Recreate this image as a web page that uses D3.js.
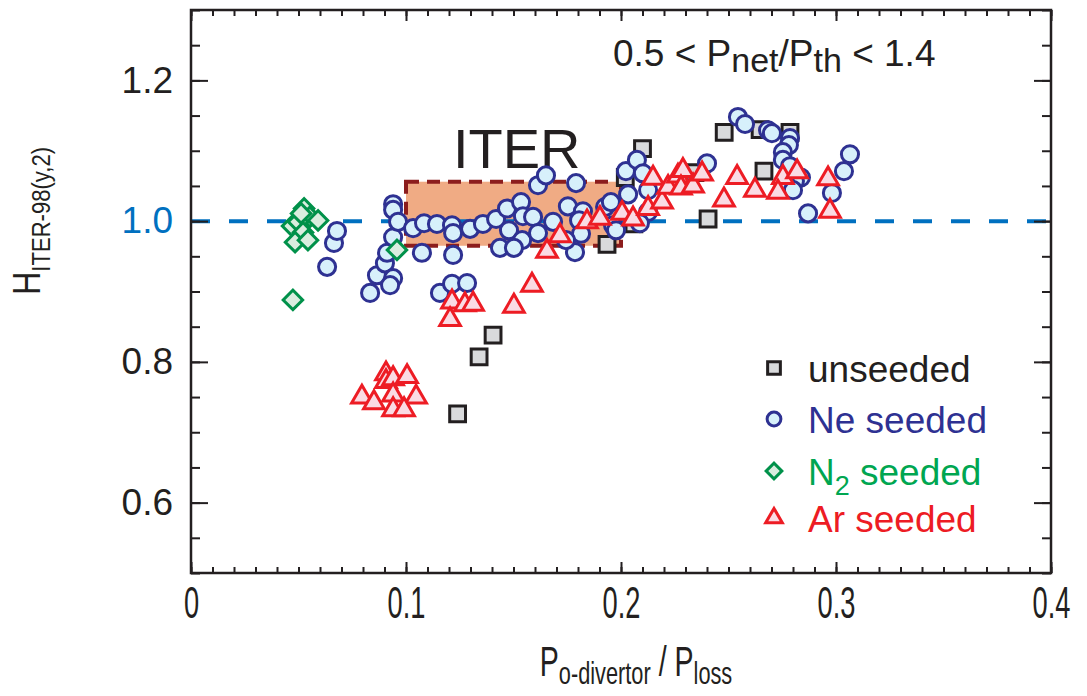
<!DOCTYPE html>
<html>
<head>
<meta charset="utf-8">
<script src="https://cdn.jsdelivr.net/npm/d3@7"></script>
<style>
  body { margin: 0; background: #fff; }
  svg { font-family: "Liberation Sans", Arial, Helvetica, sans-serif; }
</style>
</head>
<body>
<div id="chart"></div>
<script>
// data: [P_o-div/P_loss, H98]
const unseeded = [
  [0.124, 0.726], [0.134, 0.807], [0.1405, 0.838], [0.1935, 0.967], [0.210, 1.103],
  [0.202, 1.062], [0.206, 0.996], [0.2344, 1.069], [0.2405, 1.003], [0.248, 1.126],
  [0.2647, 1.130], [0.2786, 1.126], [0.2665, 1.071]
];

const neSeeded = [
  [0.0633, 0.935], [0.0665, 0.969], [0.0679, 0.986], [0.0833, 0.898], [0.0865, 0.923],
  [0.0902, 0.940], [0.0912, 0.955], [0.094, 0.919], [0.0926, 0.909], [0.094, 0.977],
  [0.094, 1.024], [0.094, 1.016], [0.0963, 0.999], [0.1033, 0.990], [0.1084, 0.997],
  [0.1144, 0.996], [0.1214, 0.994], [0.1219, 0.983], [0.1074, 0.955], [0.1219, 0.952],
  [0.1158, 0.898], [0.1214, 0.911], [0.1284, 0.912], [0.1298, 0.989], [0.1358, 0.996],
  [0.1419, 1.003], [0.147, 1.018], [0.1535, 1.027], [0.1544, 1.007], [0.1591, 1.006],
  [0.1479, 0.987], [0.154, 0.973], [0.1614, 0.983], [0.1684, 0.999], [0.1437, 0.962],
  [0.1502, 0.962], [0.1753, 1.021], [0.1823, 1.014], [0.1805, 1.001], [0.1814, 0.982],
  [0.1786, 0.956], [0.1744, 0.973], [0.1614, 1.051], [0.1651, 1.065], [0.1791, 1.054],
  [0.1926, 1.020], [0.1953, 1.027], [0.1963, 0.994], [0.1977, 0.987], [0.2033, 1.038],
  [0.2023, 1.071], [0.2074, 1.087], [0.2102, 1.068], [0.2126, 1.044], [0.2126, 1.013],
  [0.2088, 0.997], [0.240, 1.082], [0.2544, 1.148], [0.2577, 1.138], [0.2684, 1.129],
  [0.2702, 1.125], [0.2786, 1.118], [0.2781, 1.108], [0.2753, 1.098], [0.2753, 1.087],
  [0.2786, 1.078], [0.2837, 1.062], [0.2809, 1.057], [0.2772, 1.050], [0.280, 1.044],
  [0.287, 1.011], [0.2981, 1.040], [0.3037, 1.071], [0.3065, 1.095]
];

const n2Seeded = [
  [0.0526, 1.018], [0.0553, 1.006], [0.0591, 1.001], [0.047, 0.993], [0.0498, 0.999],
  [0.0521, 0.984], [0.0484, 0.970], [0.0544, 0.973], [0.0512, 1.011], [0.0958, 0.959],
  [0.0474, 0.888]
];

const arSeeded = [
  [0.0795, 0.750], [0.0851, 0.742], [0.0907, 0.783], [0.0907, 0.772], [0.094, 0.776],
  [0.1005, 0.779], [0.094, 0.753], [0.1047, 0.750], [0.094, 0.732], [0.0991, 0.732],
  [0.1214, 0.885], [0.1274, 0.881], [0.1312, 0.882], [0.1205, 0.860], [0.1502, 0.879],
  [0.1586, 0.909], [0.1656, 0.957], [0.1716, 0.979], [0.1842, 0.999], [0.1902, 1.004],
  [0.2005, 1.011], [0.2056, 1.003], [0.2149, 1.061], [0.2126, 1.018], [0.2191, 1.027],
  [0.2219, 1.048], [0.2265, 1.064], [0.2288, 1.072], [0.2279, 1.047], [0.2335, 1.050],
  [0.2377, 1.067], [0.2479, 1.030], [0.254, 1.062], [0.2623, 1.044], [0.2753, 1.062],
  [0.273, 1.041], [0.2819, 1.070], [0.2963, 1.060], [0.2972, 1.014]
];

// ITER operating window and reference line
const iterBox = {x0: 0.1, x1: 0.2, y0: 0.965, y1: 1.056};
const refH = 1.0;

const xMajor = [0, 0.1, 0.2, 0.3, 0.4];
const xLabels = ["0", "0.1", "0.2", "0.3", "0.4"];
const yMajor = [0.6, 0.8, 1.0, 1.2];
const yLabels = ["0.6", "0.8", "1.0", "1.2"];
const xMinor = d3.range(0, 41).map(i => i / 100);
const yMinor = d3.range(10, 27).map(i => i * 0.05);

const W = 1087, H = 696;
const margin = {top: 10, right: 36, bottom: 123, left: 191};
const width = W - margin.left - margin.right,
    height = H - margin.top - margin.bottom;

const ink = "#231f20";

const svg = d3.select("#chart")
    .append("svg")
    .attr("width", W)
    .attr("height", H);

const g = svg.append("g")
    .attr("transform", `translate(${margin.left},${margin.top})`);

const x = d3.scaleLinear().domain([0, 0.4]).range([0, width]);
const y = d3.scaleLinear().domain([0.5, 1.3]).range([height, 0]);

// ITER box
g.append("rect")
    .attr("x", x(iterBox.x0))
    .attr("y", y(iterBox.y1))
    .attr("width", x(iterBox.x1) - x(iterBox.x0))
    .attr("height", y(iterBox.y0) - y(iterBox.y1))
    .style("fill", "#f0ab84")
    .style("stroke", "#8c1d1d")
    .style("stroke-width", 4)
    .style("stroke-dasharray", "13,8");

// H98 = 1 line
g.append("line")
    .attr("x1", 0)
    .attr("x2", width)
    .attr("y1", y(refH))
    .attr("y2", y(refH))
    .style("stroke", "#0070c0")
    .style("stroke-width", 4)
    .style("stroke-dasharray", "19,19");

g.append("text")
    .attr("x", 262)
    .attr("y", 158)
    .style("font-size", "56px")
    .style("fill", ink)
    .text("ITER");

// axes: minor + major ticks on all four sides, pointing in
function tickAxis(axis, vals, size) {
    return axis.tickValues(vals).tickSize(size).tickFormat("");
}

g.append("g").call(tickAxis(d3.axisLeft(y), yMinor, -9));
g.append("g").attr("transform", `translate(${width},0)`).call(tickAxis(d3.axisRight(y), yMinor, -9));
g.append("g").attr("transform", `translate(${width},0)`).call(tickAxis(d3.axisRight(y), yMajor, -17));
g.append("g").call(tickAxis(d3.axisTop(x), xMinor, -6));
g.append("g").call(tickAxis(d3.axisTop(x), xMajor, -11));
g.append("g").attr("transform", `translate(0,${height})`).call(tickAxis(d3.axisBottom(x), xMinor, -6));

const axLeft = g.append("g")
    .call(d3.axisLeft(y).tickValues(yMajor).tickSize(-17).tickPadding(18)
        .tickFormat((d, i) => yLabels[i]));

const axBottom = g.append("g")
    .attr("transform", `translate(0,${height})`)
    .call(d3.axisBottom(x).tickValues(xMajor).tickSize(-11).tickPadding(45)
        .tickFormat((d, i) => xLabels[i]));

g.selectAll(".domain").remove();
g.selectAll(".tick line").style("stroke", ink).style("stroke-width", 2);

axLeft.selectAll("text")
    .style("font-size", "37px")
    .style("font-family", "Liberation Sans, Arial, sans-serif")
    .style("fill", d => d === 1.0 ? "#0070c0" : ink);

axBottom.selectAll("text")
    .attr("dy", 0)
    .style("font-size", "44px")
    .style("font-family", "Liberation Sans, Arial, sans-serif")
    .style("fill", ink)
    .attr("transform", "scale(0.62,1)");

// frame
g.append("rect")
    .attr("width", width)
    .attr("height", height)
    .style("fill", "none")
    .style("stroke", ink)
    .style("stroke-width", 2.5);

// markers
const sq = d3.symbol().type(d3.symbolSquare).size(250);
const circ = d3.symbol().type(d3.symbolCircle).size(230);
const dia = d3.symbol().type(d3.symbolSquare).size(190);
const tri = d3.symbol().type(d3.symbolTriangle).size(185);

const series = [
    {data: unseeded, path: sq, fill: "#d9dadc", stroke: ink, rot: 0},
    {data: neSeeded, path: circ, fill: "#d7f0fb", stroke: "#2e3192", rot: 0},
    {data: n2Seeded, path: dia, fill: "#d9eddf", stroke: "#00914a", rot: 45},
    {data: arSeeded, path: tri, fill: "#fadbe4", stroke: "#ed1c24", rot: 0}
];

series.forEach(s => {
    g.append("g").selectAll("path")
        .data(s.data)
        .enter()
        .append("path")
        .attr("d", s.path)
        .attr("transform", d => `translate(${x(d[0])},${y(d[1])}) rotate(${s.rot})`)
        .style("fill", s.fill)
        .style("stroke", s.stroke)
        .style("stroke-width", 3);
});

// annotation top right
const note = svg.append("text")
    .attr("x", 613)
    .attr("y", 66)
    .style("font-size", "37px")
    .style("fill", ink);
note.append("tspan").text("0.5 < P");
note.append("tspan").attr("dy", 6).style("font-size", "34px").text("net");
note.append("tspan").attr("dy", -6).text("/P");
note.append("tspan").attr("dy", 6).style("font-size", "34px").text("th");
note.append("tspan").attr("dy", -6).text(" < 1.4");

// legend
const legendNames = ["unseeded", "Ne seeded", "N2 seeded", "Ar seeded"];
const legendColors = [ink, "#2e3192", "#00a651", "#ed1c24"];
const legendY = [368, 419, 471, 518];

series.forEach((s, i) => {
    svg.append("path")
        .attr("d", d3.symbol().type(s.path.type()).size(s.path.size()() * 0.65))
        .attr("transform", `translate(774,${legendY[i]}) rotate(${s.rot})`)
        .style("fill", s.fill)
        .style("stroke", s.stroke)
        .style("stroke-width", 3);

    const t = svg.append("text")
        .attr("x", 808)
        .attr("y", legendY[i] + 14)
        .style("font-size", "37px")
        .style("fill", legendColors[i]);
    if (i === 2) {
        t.append("tspan").text("N");
        t.append("tspan").attr("dy", 10).style("font-size", "27px").text("2");
        t.append("tspan").attr("dy", -10).text(" seeded");
    } else {
        t.text(legendNames[i]);
    }
});

// y axis title
const yTitle = svg.append("text")
    .attr("transform", "translate(40,221) rotate(-90) scale(0.85,1)")
    .attr("text-anchor", "middle")
    .style("font-size", "38px")
    .style("fill", ink);
yTitle.append("tspan").text("H");
yTitle.append("tspan").attr("dy", 10).style("font-size", "26px").text("ITER-98(y,2)");

// x axis title
const xTitle = svg.append("text")
    .attr("transform", "translate(636,676) scale(0.68,1)")
    .attr("text-anchor", "middle")
    .style("font-size", "42px")
    .style("fill", ink);
xTitle.append("tspan").text("P");
xTitle.append("tspan").attr("dy", 8).style("font-size", "32px").text("o-divertor");
xTitle.append("tspan").attr("dy", -8).text(" / P");
xTitle.append("tspan").attr("dy", 8).style("font-size", "32px").text("loss");
</script>
</body>
</html>
